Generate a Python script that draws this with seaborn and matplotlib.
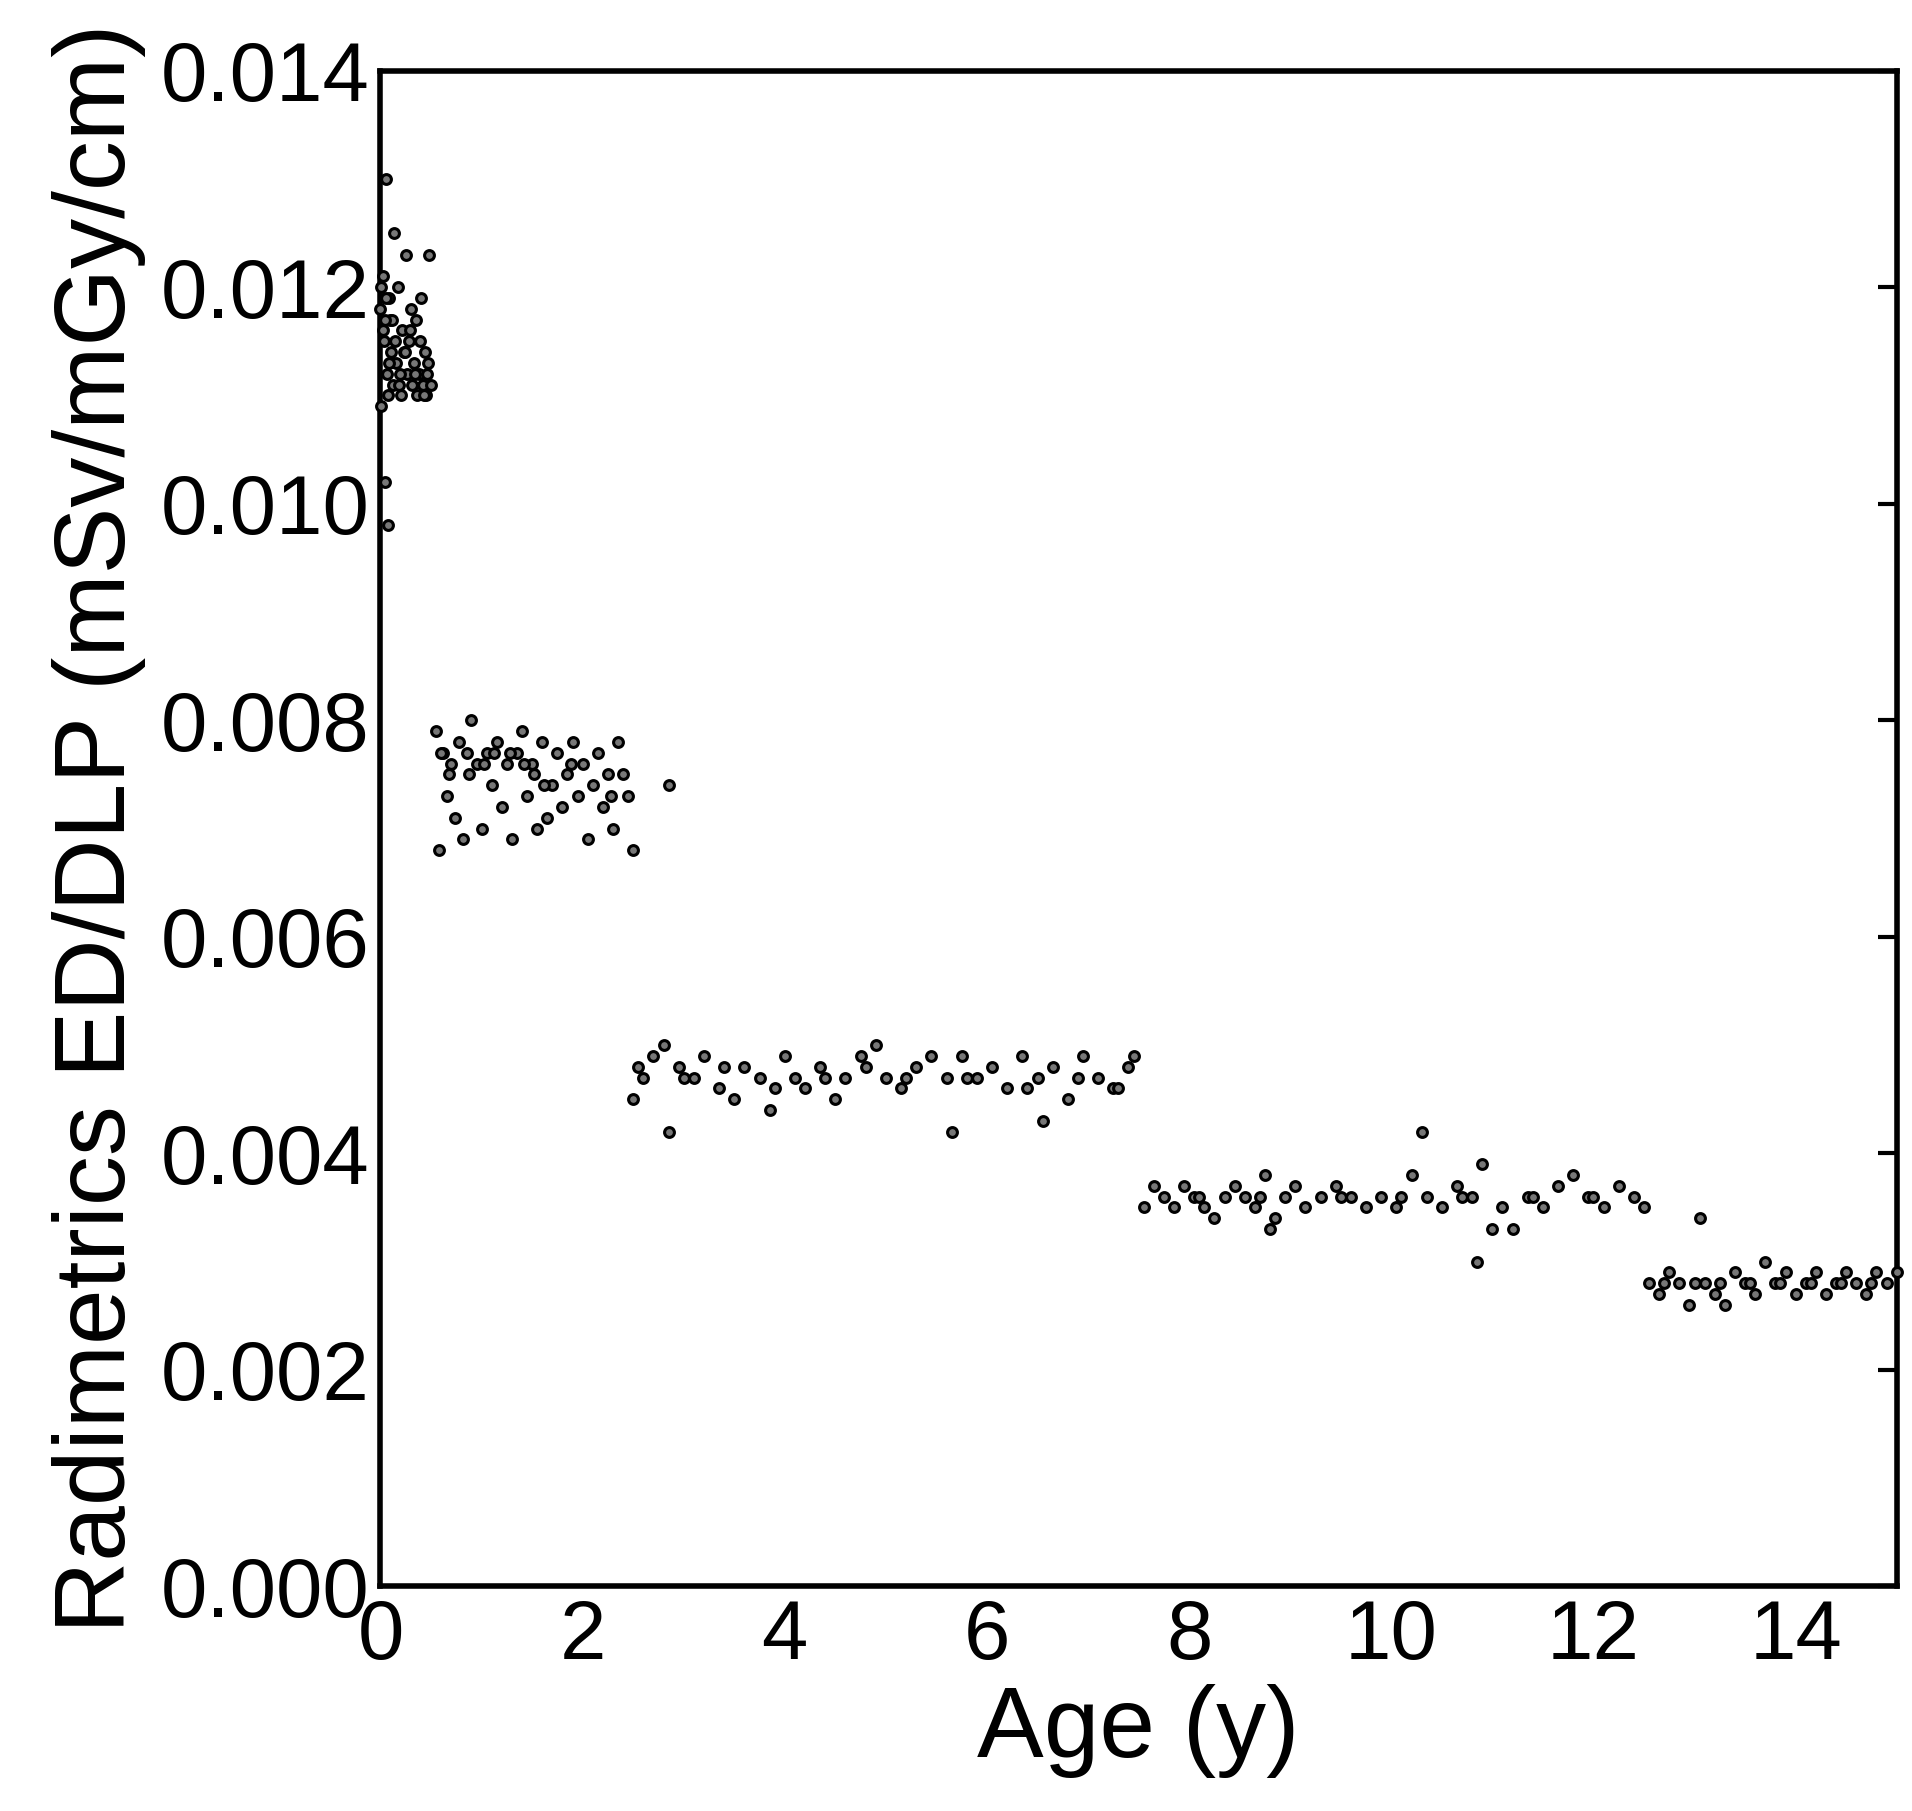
import matplotlib
matplotlib.use("Agg")
import matplotlib.pyplot as plt
import seaborn as sns
import pandas as pd

sns.set_style("white")
plt.rcParams['font.family'] = ['Liberation Sans', 'DejaVu Sans']
plt.rcParams['text.color'] = 'black'
plt.rcParams['axes.labelcolor'] = 'black'
plt.rcParams['xtick.color'] = 'black'
plt.rcParams['ytick.color'] = 'black'

age_g1 = [0.00,0.01,0.02,0.03,0.04,0.05,0.06,0.07,0.08,0.09,0.10,0.12,0.13,0.15,0.17,0.18,0.20,0.21,0.23,0.25,0.26,0.28,0.30,0.31,0.33,0.35,0.36,0.38,0.40,0.42,0.44,0.45,0.47,0.48,0.50,0.02,0.05,0.08,0.11,0.14,0.19,0.24,0.29,0.34,0.39,0.43,0.46,0.01,0.04,0.07]
val_g1 = [0.0118,0.0109,0.0121,0.0115,0.0102,0.0130,0.0112,0.0098,0.0119,0.0117,0.0114,0.0111,0.0125,0.0113,0.0120,0.0111,0.0110,0.0116,0.0114,0.0123,0.0112,0.0115,0.0118,0.0111,0.0113,0.0117,0.0110,0.0112,0.0119,0.0111,0.0114,0.0110,0.0113,0.0123,0.0111,0.0116,0.0119,0.0113,0.0117,0.0115,0.0112,0.0114,0.0116,0.0112,0.0115,0.0110,0.0112,0.0120,0.0117,0.0110]
age_g2 = [0.55,0.58,0.62,0.66,0.70,0.74,0.78,0.82,0.86,0.90,0.95,1.00,1.05,1.10,1.15,1.20,1.25,1.30,1.35,1.40,1.45,1.50,1.55,1.60,1.65,1.70,1.75,1.80,1.85,1.90,1.95,2.00,2.05,2.10,2.15,2.20,2.25,2.30,2.35,2.40,2.45,2.50,2.85,0.60,0.88,1.02,1.28,1.42,1.62,1.88,2.28,0.68,1.12,1.52]
val_g2 = [0.0079,0.0068,0.0077,0.0073,0.0076,0.0071,0.0078,0.0069,0.0077,0.0080,0.0076,0.0070,0.0077,0.0074,0.0078,0.0072,0.0076,0.0069,0.0077,0.0079,0.0073,0.0076,0.0070,0.0078,0.0071,0.0074,0.0077,0.0072,0.0075,0.0078,0.0073,0.0076,0.0069,0.0074,0.0077,0.0072,0.0075,0.0070,0.0078,0.0075,0.0073,0.0068,0.0074,0.0077,0.0075,0.0076,0.0077,0.0076,0.0074,0.0076,0.0073,0.0075,0.0077,0.0075]
age_g3 = [2.50,2.55,2.60,2.70,2.80,2.85,2.95,3.10,3.20,3.35,3.50,3.60,3.75,3.85,4.00,4.10,4.20,4.35,4.50,4.60,4.75,4.90,5.00,5.15,5.30,5.45,5.60,5.65,5.75,5.90,6.05,6.20,6.35,6.50,6.55,6.65,6.80,6.95,7.10,7.25,7.40,7.45,3.00,3.40,3.90,4.40,4.80,5.20,5.80,6.40,6.90,7.30]
val_g3 = [0.0045,0.0048,0.0047,0.0049,0.0050,0.0042,0.0048,0.0047,0.0049,0.0046,0.0045,0.0048,0.0047,0.0044,0.0049,0.0047,0.0046,0.0048,0.0045,0.0047,0.0049,0.0050,0.0047,0.0046,0.0048,0.0049,0.0047,0.0042,0.0049,0.0047,0.0048,0.0046,0.0049,0.0047,0.0043,0.0048,0.0045,0.0049,0.0047,0.0046,0.0048,0.0049,0.0047,0.0048,0.0046,0.0047,0.0048,0.0047,0.0047,0.0046,0.0047,0.0046]
age_g4 = [7.55,7.65,7.75,7.85,7.95,8.05,8.15,8.25,8.35,8.45,8.55,8.65,8.75,8.80,8.85,8.95,9.05,9.15,9.30,9.45,9.60,9.75,9.90,10.05,10.20,10.30,10.35,10.50,10.65,10.80,10.85,10.90,11.00,11.10,11.20,11.35,11.50,11.65,11.80,11.95,12.10,12.25,12.40,12.50,8.10,8.70,9.50,10.10,10.70,11.40,12.00]
val_g4 = [0.0035,0.0037,0.0036,0.0035,0.0037,0.0036,0.0035,0.0034,0.0036,0.0037,0.0036,0.0035,0.0038,0.0033,0.0034,0.0036,0.0037,0.0035,0.0036,0.0037,0.0036,0.0035,0.0036,0.0035,0.0038,0.0042,0.0036,0.0035,0.0037,0.0036,0.0030,0.0039,0.0033,0.0035,0.0033,0.0036,0.0035,0.0037,0.0038,0.0036,0.0035,0.0037,0.0036,0.0035,0.0036,0.0036,0.0036,0.0036,0.0036,0.0036,0.0036]
age_g5 = [12.55,12.65,12.75,12.85,12.95,13.05,13.10,13.20,13.30,13.40,13.50,13.60,13.70,13.80,13.90,14.00,14.10,14.20,14.30,14.40,14.50,14.60,14.70,14.80,14.90,15.00,12.70,13.00,13.25,13.55,13.85,14.15,14.45,14.75]
val_g5 = [0.0028,0.0027,0.0029,0.0028,0.0026,0.0034,0.0028,0.0027,0.0026,0.0029,0.0028,0.0027,0.0030,0.0028,0.0029,0.0027,0.0028,0.0029,0.0027,0.0028,0.0029,0.0028,0.0027,0.0029,0.0028,0.0029,0.0028,0.0028,0.0028,0.0028,0.0028,0.0028,0.0028,0.0028]

df = pd.DataFrame({"age": age_g1+age_g2+age_g3+age_g4+age_g5,
                   "val": val_g1+val_g2+val_g3+val_g4+val_g5})

fig = plt.figure(figsize=(19.12, 18.11), dpi=100)
ax = fig.add_axes([0.199, 0.124, 0.793, 0.837])
sns.scatterplot(data=df, x="age", y="val", ax=ax, s=50, color="#777777",
                edgecolor="black", linewidth=2.2, clip_on=False, zorder=3)
ax.set_xlim(0, 15)
ax.set_ylim(0, 0.014)
ax.set_xticks([0,2,4,6,8,10,12,14])
ax.set_yticks([0.000,0.002,0.004,0.006,0.008,0.010,0.012,0.014])
ax.yaxis.set_major_formatter(matplotlib.ticker.FormatStrFormatter('%.3f'))
ax.tick_params(direction='in', length=14, width=3, labelsize=60, right=True, top=False, pad=8)
for s in ax.spines.values():
    s.set_linewidth(4); s.set_color("black")
ax.set_xlabel("Age (y)", fontsize=72, labelpad=6)
ax.set_ylabel("Radimetrics ED/DLP (mSv/mGy/cm)", fontsize=72, labelpad=10)
fig.savefig("out.png", dpi=100)
